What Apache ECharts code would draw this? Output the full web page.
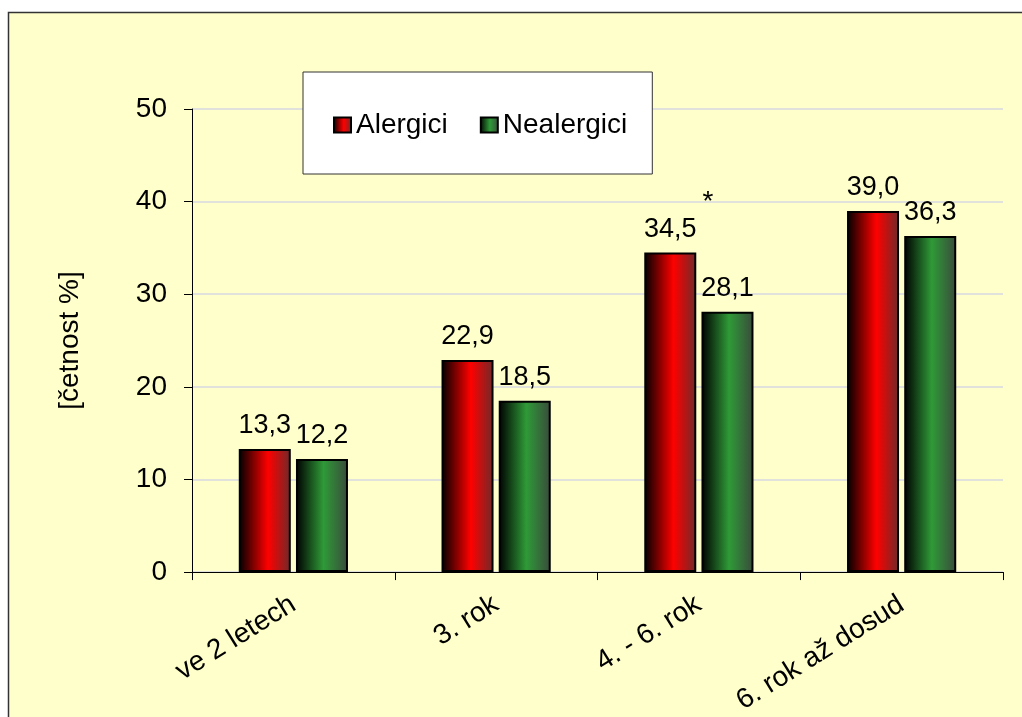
<!DOCTYPE html>
<html>
<head>
<meta charset="utf-8">
<script src="https://cdn.jsdelivr.net/npm/echarts@6/dist/echarts.min.js"></script>
<style>
  html, body { margin: 0; padding: 0; background: #ffffff; }
  #chart { width: 1022px; height: 717px; }
</style>
</head>
<body>
<div id="chart"></div>
<script>
// Age at onset groups and share of respondents in each group
const categories = ['ve 2 letech', '3. rok', '4. - 6. rok', '6. rok až dosud'];
const alergici = [13.3, 22.9, 34.5, 39.0];
const nealergici = [12.2, 18.5, 28.1, 36.3];
// Significance markers per group
const significance = ['', '', '*', ''];
const yTicks = [0, 10, 20, 30, 40, 50];

const FONT = "'Liberation Sans', Arial, sans-serif";

const redFill = new echarts.graphic.LinearGradient(0, 0, 1, 0, [
  { offset: 0, color: '#000000' },
  { offset: 0.56, color: '#ff0000' },
  { offset: 1, color: '#6e2a2a' }
]);
const greenFill = new echarts.graphic.LinearGradient(0, 0, 1, 0, [
  { offset: 0, color: '#000000' },
  { offset: 0.53, color: '#2f9a37' },
  { offset: 1, color: '#3a4a3c' }
]);

const fmt = v => v.toFixed(1).replace('.', ',');

const chart = echarts.init(document.getElementById('chart'), null, { renderer: 'canvas' });

const valueLabel = {
  show: true,
  position: 'top',
  distance: 10,
  fontFamily: FONT,
  fontSize: 27,
  color: '#000',
  formatter: p => fmt(p.value)
};

// Pale yellow page panel with a dark frame on its top and left edges
const panel = {
  type: 'rect',
  z: -10,
  shape: { x: 8.5, y: 12.5, width: 1030, height: 720 },
  style: { fill: '#ffffcc', stroke: '#333333', lineWidth: 1.5 },
  silent: true
};

chart.setOption({
  animation: false,
  backgroundColor: '#ffffff',
  textStyle: { fontFamily: FONT },
  graphic: [panel],
  grid: { left: 192, right: 19, top: 109, bottom: 142, containLabel: false },
  legend: {
    left: 303,
    top: 72,
    padding: [39, 25, 35, 30],
    backgroundColor: '#ffffff',
    borderColor: '#333333',
    borderWidth: 1,
    icon: 'rect',
    itemWidth: 17,
    itemHeight: 15,
    itemGap: 32,
    textStyle: { fontFamily: FONT, fontSize: 28, color: '#000' },
    data: ['Alergici', 'Nealergici']
  },
  xAxis: {
    type: 'category',
    data: categories,
    axisLine: { show: true, lineStyle: { color: '#000', width: 1 } },
    axisTick: { show: true, alignWithLabel: false, length: 8, lineStyle: { color: '#000' } },
    axisLabel: {
      rotate: 32,
      margin: 30,
      fontFamily: FONT,
      fontSize: 28,
      color: '#000',
      interval: 0
    },
    splitLine: { show: false }
  },
  yAxis: {
    type: 'value',
    min: yTicks[0],
    max: yTicks[yTicks.length - 1],
    interval: 10,
    name: '[četnost %]',
    nameLocation: 'middle',
    nameGap: 108,
    nameRotate: 90,
    nameTextStyle: { fontFamily: FONT, fontSize: 28, color: '#000' },
    axisLine: { show: true, lineStyle: { color: '#000', width: 1 } },
    axisTick: { show: true, inside: false, length: 8, lineStyle: { color: '#000' } },
    axisLabel: { margin: 25, fontFamily: FONT, fontSize: 28, color: '#000' },
    splitLine: { show: true, lineStyle: { color: '#e2e2dc', width: 2 } }
  },
  series: [
    {
      name: 'Alergici',
      type: 'bar',
      data: alergici,
      barWidth: 52,
      barGap: '10%',
      itemStyle: { color: redFill, borderColor: '#000', borderWidth: 2 },
      label: valueLabel
    },
    {
      name: 'Nealergici',
      type: 'bar',
      data: nealergici,
      barWidth: 52,
      barGap: '10%',
      itemStyle: { color: greenFill, borderColor: '#000', borderWidth: 2 },
      label: valueLabel
    }
  ]
});

// Significance asterisks placed above the taller bar of each marked group
const marks = [];
significance.forEach((m, i) => {
  if (!m) return;
  const top = Math.max(alergici[i], nealergici[i]);
  const pt = chart.convertToPixel({ xAxisIndex: 0, yAxisIndex: 0 }, [i, top]);
  marks.push({
    type: 'text',
    x: pt[0] + 9,
    y: pt[1] - 64,
    z: 10,
    style: {
      text: m,
      fontFamily: FONT,
      fontSize: 28,
      fill: '#000',
      align: 'center',
      verticalAlign: 'top'
    }
  });
});
if (marks.length) {
  chart.setOption({ graphic: [panel].concat(marks) });
}
</script>
</body>
</html>
